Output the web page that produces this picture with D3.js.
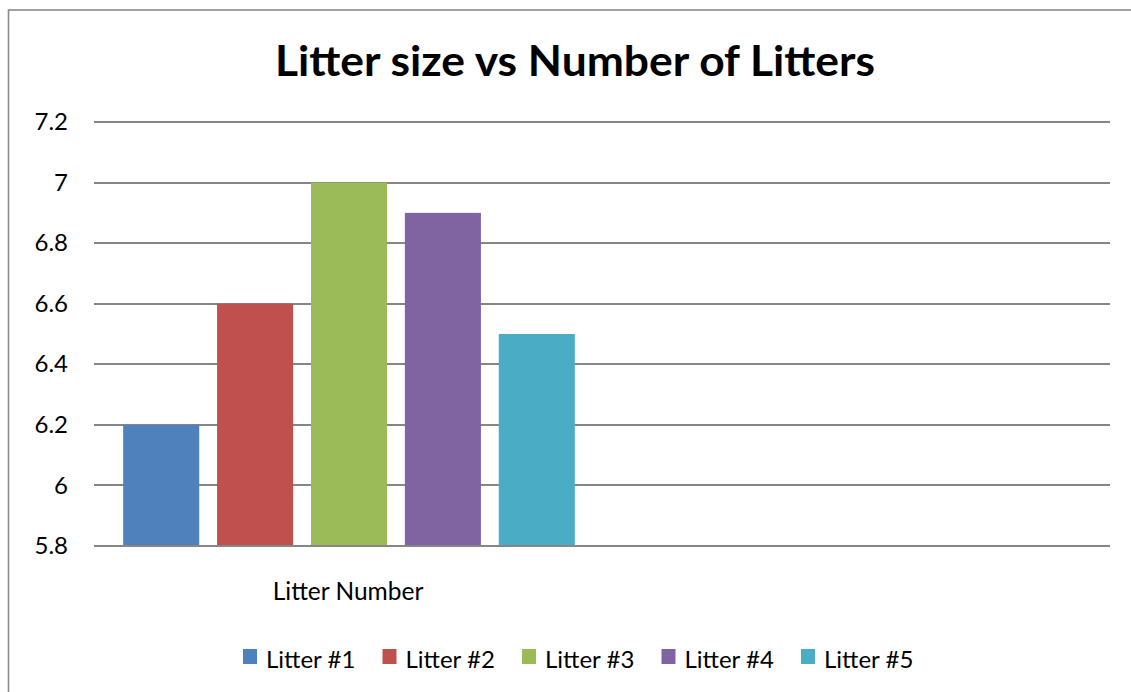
<!DOCTYPE html>
<html>
<head>
<meta charset="utf-8">
<script src="https://cdn.jsdelivr.net/npm/d3@7"></script>
<style>
  html, body { margin: 0; padding: 0; background: #fff; }
  svg { display: block; font-family: Lato, "Open Sans", sans-serif; }
</style>
</head>
<body>
<div id="chart"></div>
<script>
// Chart data
const categories = ['Litter Number', ''];
const seriesNames = ['Litter #1', 'Litter #2', 'Litter #3', 'Litter #4', 'Litter #5'];
const litterSizes = [6.2, 6.6, 7.0, 6.9, 6.5];
const yTicks = [5.8, 6, 6.2, 6.4, 6.6, 6.8, 7, 7.2];
const seriesColors = ['#4F81BD', '#C0504D', '#9BBB59', '#8064A2', '#4BACC6'];

const W = 1131, H = 692;
const plot = { left: 94, right: 1110, top: 122, bottom: 546 };

const svg = d3.select('#chart')
  .append('svg')
  .attr('width', W)
  .attr('height', H);

// Outer chart border (right and bottom fall outside the picture)
svg.append('rect')
  .attr('x', 8.5)
  .attr('y', 10)
  .attr('width', 1300)
  .attr('height', 900)
  .attr('fill', '#fff')
  .attr('stroke', '#8a8a8a')
  .attr('stroke-width', 1.6);

// Title
svg.append('text')
  .attr('x', 575)
  .attr('y', 76)
  .attr('text-anchor', 'middle')
  .attr('textLength', 600)
  .attr('lengthAdjust', 'spacingAndGlyphs')
  .style('font-size', '42px')
  .style('font-weight', 'bold')
  .text('Litter size vs Number of Litters');

// Scales
const yScale = d3.scaleLinear()
  .domain([5.8, 7.2])
  .range([plot.bottom, plot.top]);

const xScale = d3.scaleBand()
  .domain(categories)
  .range([plot.left, plot.right])
  .paddingInner(0)
  .paddingOuter(0);

const xSeries = d3.scaleBand()
  .domain(seriesNames)
  .range([0, xScale.bandwidth()])
  .paddingInner(0.19)
  .paddingOuter(0.3);

// Gridlines
svg.append('g')
  .selectAll('line')
  .data(yTicks)
  .enter()
  .append('line')
  .attr('x1', plot.left)
  .attr('x2', plot.right)
  .attr('y1', d => Math.round(yScale(d)))
  .attr('y2', d => Math.round(yScale(d)))
  .attr('stroke', '#868686')
  .attr('stroke-width', 2);

// Y axis labels
const yAxis = svg.append('g')
  .attr('transform', 'translate(68,0)')
  .call(d3.axisLeft(yScale).tickValues(yTicks).tickSize(0).tickPadding(0).tickFormat(d3.format('')));
yAxis.select('.domain').remove();
yAxis.selectAll('text')
  .attr('fill', '#000')
  .style('font-size', '24px')
  .style('font-family', 'Lato, sans-serif');

// Bars
const group = svg.append('g')
  .attr('transform', `translate(${xScale(categories[0]) + 1},0)`);

group.selectAll('.bar')
  .data(seriesNames)
  .enter()
  .append('rect')
  .attr('class', 'bar')
  .attr('x', d => xSeries(d))
  .attr('y', (d, i) => yScale(litterSizes[i]))
  .attr('width', xSeries.bandwidth())
  .attr('height', (d, i) => yScale(5.8) - yScale(litterSizes[i]) - 1)
  .attr('fill', (d, i) => seriesColors[i]);

// X axis category labels
const xAxis = svg.append('g')
  .attr('transform', `translate(0,${plot.bottom})`)
  .call(d3.axisBottom(xScale).tickSize(0).tickPadding(0));
xAxis.select('.domain').remove();
xAxis.selectAll('text')
  .attr('fill', '#000')
  .attr('dy', null)
  .attr('y', 54)
  .style('font-size', '24.5px')
  .style('font-family', 'Lato, sans-serif');

// Legend
const legend = svg.append('g')
  .attr('transform', 'translate(243,649)');

const legendItems = legend.selectAll('.legend-item')
  .data(seriesNames)
  .enter()
  .append('g')
  .attr('class', 'legend-item')
  .attr('transform', (d, i) => `translate(${i * 139.5},0)`);

legendItems.append('rect')
  .attr('width', 14)
  .attr('height', 15)
  .attr('fill', (d, i) => seriesColors[i]);

legendItems.append('text')
  .attr('x', 23)
  .attr('y', 19)
  .style('font-size', '24px')
  .text(d => d);
</script>
</body>
</html>
